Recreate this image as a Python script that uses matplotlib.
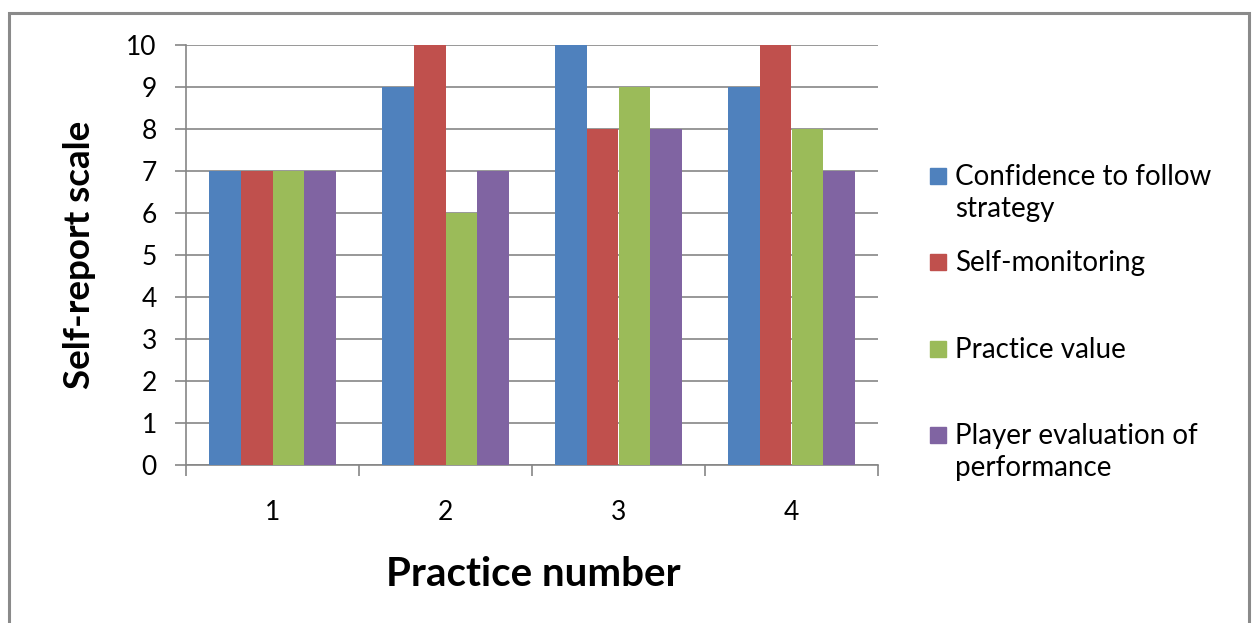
import matplotlib.pyplot as plt
from matplotlib.patches import Rectangle
import numpy as np

plt.rcParams['font.family'] = ['Lato', 'DejaVu Sans']

practices = ['1', '2', '3', '4']
confidence = [7, 9, 10, 9]
self_monitoring = [7, 10, 8, 10]
practice_value = [7, 6, 9, 8]
player_eval = [7, 7, 8, 7]

series_names = ['Confidence to follow\nstrategy', 'Self-monitoring',
                'Practice value', 'Player evaluation of\nperformance']
colors = ['#4F81BD', '#C0504D', '#9BBB59', '#8064A2']
grid_col = '#868686'

W, H = 1254, 623
fig = plt.figure(figsize=(W / 100, H / 100), dpi=100)
ax = fig.add_axes([186 / W, 1 - 465 / H, (878 - 186) / W, (465 - 45) / H])

x = np.arange(len(practices))
bw = 0.184
all_series = [confidence, self_monitoring, practice_value, player_eval]
for i, (vals, col) in enumerate(zip(all_series, colors)):
    ax.bar(x + (i - 1.5) * bw, vals, width=bw, color=col, zorder=3)

ax.set_xlim(-0.5, 3.5)
ax.set_ylim(0, 10)
ax.set_yticks(range(0, 11))
ax.yaxis.grid(True, color=grid_col, linewidth=1.2, zorder=0)
ax.set_axisbelow(True)

ax.set_xticks(x)
ax.set_xticklabels(practices)
ax.set_xticks(np.arange(-0.5, 4, 1), minor=True)
ax.tick_params(axis='x', which='major', length=0, pad=25, labelsize=19)
ax.tick_params(axis='x', which='minor', length=8, width=1.2, color=grid_col,
               direction='out')
ax.tick_params(axis='y', length=8, width=1.2, color=grid_col, labelsize=19,
               pad=13)

for side in ['top', 'right']:
    ax.spines[side].set_visible(False)
for side in ['left', 'bottom']:
    ax.spines[side].set_color(grid_col)
    ax.spines[side].set_linewidth(1.2)

fig.text(533 / W, 1 - 575 / H, 'Practice number', ha='center', va='center',
         fontsize=29, fontweight='bold')
fig.text(80 / W, 1 - 255 / H, 'Self-report scale', ha='center', va='center',
         rotation=90, fontsize=26.5, fontweight='bold')

# legend drawn by hand so the entries sit in equal slots
for i, (name, col) in enumerate(zip(series_names, colors)):
    yc = 176 + 86.3 * i
    fig.patches.append(Rectangle((930 / W, 1 - (yc + 8) / H), 16 / W, 16 / H,
                                 transform=fig.transFigure, color=col,
                                 figure=fig))
    fig.text(955 / W, 1 - (yc - 12) / H, name, ha='left', va='top',
             fontsize=20, linespacing=1.3)

# outer frame
fig.patches.append(Rectangle((9 / W, -0.1), (1249 - 9) / W, 1.1 - 13 / H,
                             transform=fig.transFigure, fill=False,
                             edgecolor='#8a8a8a', linewidth=2.2, figure=fig))

fig.savefig('out.png', dpi=100)
